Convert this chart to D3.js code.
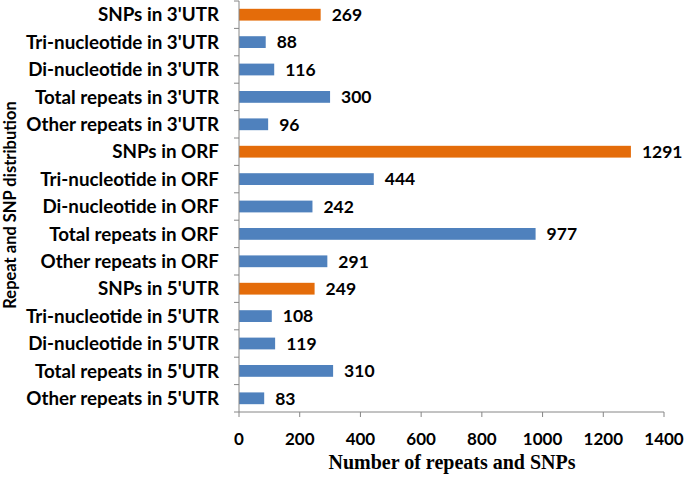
<!DOCTYPE html>
<html><head><meta charset="utf-8">
<script src="https://cdn.jsdelivr.net/npm/d3@7"></script>
<style>body{margin:0;background:#fff}svg{display:block}</style>
</head><body>
<svg id="chart" width="685" height="479"></svg>
<script>
const categories = [
  "SNPs in 3'UTR","Tri-nucleotide in 3'UTR","Di-nucleotide in 3'UTR","Total repeats in 3'UTR","Other repeats in 3'UTR",
  "SNPs in ORF","Tri-nucleotide in ORF","Di-nucleotide in ORF","Total repeats in ORF","Other repeats in ORF",
  "SNPs in 5'UTR","Tri-nucleotide in 5'UTR","Di-nucleotide in 5'UTR","Total repeats in 5'UTR","Other repeats in 5'UTR"
];
const values = [269,88,116,300,96,1291,444,242,977,291,249,108,119,310,83];
const xTicks = [0,200,400,600,800,1000,1200,1400];
const xTitle = "Number of repeats and SNPs";
const yTitle = "Repeat and SNP distribution";
const blue = "#4F81BD", orange = "#E46C0A";

(function(){
const svg = d3.select("#chart");
const mLeft = 239, mRight = 664, mTop = 1, mBottom = 412;
const x = d3.scaleLinear().domain([0,1400]).range([mLeft,mRight]);
const y = d3.scaleBand().domain(categories).range([mTop,mBottom]).paddingInner(0.57).paddingOuter(0.285);
const sans = "Lato, 'Open Sans', sans-serif";

svg.selectAll("rect.bar").data(categories).enter().append("rect")
  .attr("x", x(0)).attr("y", d=>y(d))
  .attr("width", (d,i)=>x(values[i])-x(0)).attr("height", y.bandwidth())
  .attr("fill", d=>d.startsWith("SNPs")?orange:blue);

svg.selectAll("text.val").data(categories).enter().append("text")
  .attr("x", (d,i)=>x(values[i])+11).attr("y", d=>y(d)+y.bandwidth()/2)
  .attr("dy","0.36em").attr("font-family",sans)
  .attr("font-weight","bold").attr("font-size",17.5).attr("fill","#000")
  .text((d,i)=>values[i]);

const axisColor = "#868686";
svg.append("line").attr("x1",mLeft).attr("x2",mLeft).attr("y1",mTop).attr("y2",mBottom).attr("stroke",axisColor);
svg.append("line").attr("x1",mLeft).attr("x2",mRight).attr("y1",mBottom).attr("y2",mBottom).attr("stroke",axisColor);
const step = y.step();
d3.range(categories.length+1).forEach(i=>{
  svg.append("line").attr("x1",mLeft-5).attr("x2",mLeft).attr("y1",mTop+i*step).attr("y2",mTop+i*step).attr("stroke",axisColor);
});
xTicks.forEach(t=>{
  svg.append("line").attr("x1",x(t)).attr("x2",x(t)).attr("y1",mBottom).attr("y2",mBottom+5).attr("stroke",axisColor);
  svg.append("text").attr("x",x(t)).attr("y",445).attr("text-anchor","middle")
    .attr("font-family",sans).attr("font-weight","bold").attr("font-size",17).text(t);
});
svg.selectAll("text.cat").data(categories).enter().append("text")
  .attr("x",219).attr("y",d=>y(d)+y.bandwidth()/2).attr("dy","0.36em")
  .attr("text-anchor","end").attr("font-family",sans)
  .attr("font-weight","bold").attr("font-size",18.8).text(d=>d);

svg.append("text").attr("x",452).attr("y",469).attr("text-anchor","middle")
  .attr("font-family","'Liberation Serif', 'Times New Roman', serif").attr("font-weight","bold")
  .attr("font-size",20).text(xTitle);
svg.append("text").attr("transform","translate(16,205) rotate(-90)").attr("text-anchor","middle")
  .attr("font-family",sans).attr("font-weight","bold")
  .attr("font-size",16.5).text(yTitle);
})();
</script>
</body></html>
